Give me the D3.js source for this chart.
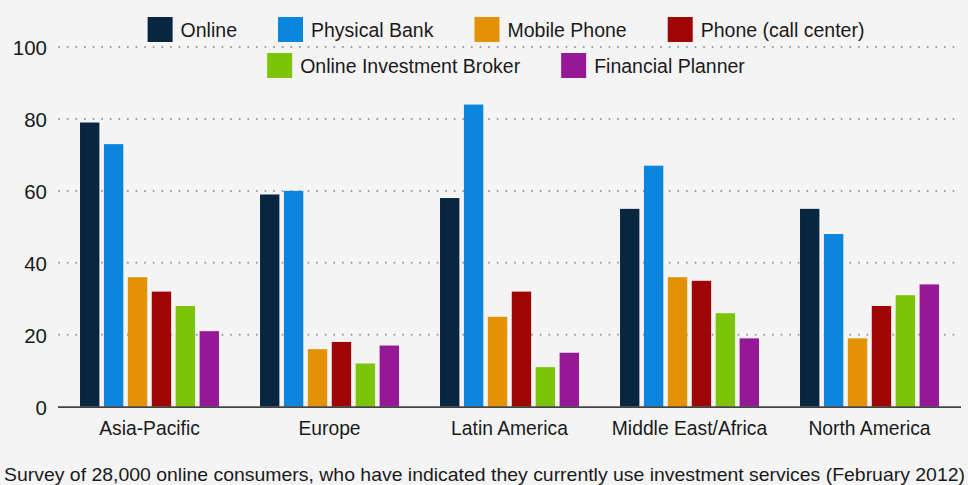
<!DOCTYPE html>
<html>
<head>
<meta charset="utf-8">
<script src="https://cdn.jsdelivr.net/npm/d3@7"></script>
<style>
  html, body { margin: 0; padding: 0; background: #f4f4f4; }
  svg { display: block; font-family: "Liberation Sans", Arial, Helvetica, sans-serif; }
</style>
</head>
<body>
<svg id="chart" width="968" height="485"></svg>
<script>
// Regions and channels used for investment services (% of respondents)
const regions = ["Asia-Pacific", "Europe", "Latin America", "Middle East/Africa", "North America"];
const channels = ["Online", "Physical Bank", "Mobile Phone", "Phone (call center)", "Online Investment Broker", "Financial Planner"];
const channelColors = ["#08263f", "#0a86de", "#e39105", "#a00505", "#7cc408", "#961896"];

const online        = [79, 59, 58, 55, 55];
const physicalBank  = [73, 60, 84, 67, 48];
const mobilePhone   = [36, 16, 25, 36, 19];
const callCenter    = [32, 18, 32, 35, 28];
const onlineBroker  = [28, 12, 11, 26, 31];
const finPlanner    = [21, 17, 15, 19, 34];
const seriesValues = [online, physicalBank, mobilePhone, callCenter, onlineBroker, finPlanner];

const yTicks = [0, 20, 40, 60, 80, 100];
const footnote = "Survey of 28,000 online consumers, who have indicated they currently use investment services (February 2012)";

const svg = d3.select("#chart");
const W = 968, H = 485;
svg.append("rect").attr("width", W).attr("height", H).attr("fill", "#f4f4f4");

const plotLeft = 58, plotRight = 961;
const y = d3.scaleLinear().domain([0, 100]).range([406.7, 47]);
const x0 = d3.scaleBand().domain(regions).range([59.5, 959.5]).paddingInner(0.228).paddingOuter(0.114);
const x1 = d3.scaleBand().domain(channels).range([0, x0.bandwidth()]).paddingInner(0.19).paddingOuter(0);
const color = d3.scaleOrdinal().domain(channels).range(channelColors);

// dotted gridlines
svg.append("g")
  .selectAll("line")
  .data(yTicks.filter(d => d > 0))
  .join("line")
  .attr("x1", plotLeft + 1).attr("x2", plotRight)
  .attr("y1", d => y(d)).attr("y2", d => y(d))
  .attr("stroke", "#999")
  .attr("stroke-width", 2)
  .attr("stroke-linecap", "round")
  .attr("stroke-dasharray", "0.1,8.5");

// y-axis tick labels
const yAxis = d3.axisLeft(y).tickValues(yTicks).tickSize(0).tickPadding(0);
const yg = svg.append("g").attr("transform", "translate(47,0)").call(yAxis);
yg.select(".domain").remove();
yg.selectAll("text")
  .attr("font-size", 20.5)
  .attr("fill", "#1a1a1a")
  .attr("font-family", "'Liberation Sans', Arial, sans-serif")
  .attr("dy", "0.36em");

// bars
const groups = svg.append("g")
  .selectAll("g")
  .data(regions)
  .join("g")
  .attr("transform", d => `translate(${x0(d)},0)`);

groups.selectAll("rect")
  .data((r, ri) => channels.map((c, ci) => ({ channel: c, value: seriesValues[ci][ri] })))
  .join("rect")
  .attr("x", d => x1(d.channel))
  .attr("width", x1.bandwidth())
  .attr("y", d => y(d.value))
  .attr("height", d => y(0) - y(d.value))
  .attr("fill", d => color(d.channel));

// baseline
svg.append("line")
  .attr("x1", plotLeft).attr("x2", plotRight)
  .attr("y1", y(0) + 0.5).attr("y2", y(0) + 0.5)
  .attr("stroke", "#444").attr("stroke-width", 1.8);

// category labels
const xAxis = d3.axisBottom(x0).tickSize(0).tickPadding(0);
const xg = svg.append("g").attr("transform", "translate(0,435)").call(xAxis);
xg.select(".domain").remove();
xg.selectAll("text")
  .attr("dy", 0)
  .attr("font-size", 19.3)
  .attr("fill", "#1a1a1a")
  .attr("font-family", "'Liberation Sans', Arial, sans-serif");

// legend, two centred rows
const legendRows = [channels.slice(0, 4), channels.slice(4)];
const rowY = [17, 53];
const legendCenter = 506;
legendRows.forEach((row, ri) => {
  const g = svg.append("g");
  let cx = 0;
  row.forEach((name, i) => {
    const item = g.append("g").attr("transform", `translate(${cx},${rowY[ri]})`);
    item.append("rect").attr("width", 25).attr("height", 25).attr("fill", color(name));
    const t = item.append("text")
      .attr("x", 33).attr("y", 19.8)
      .attr("font-size", 19.5)
      .attr("fill", "#1a1a1a")
      .text(name);
    cx += 33 + t.node().getComputedTextLength() + (i < row.length - 1 ? 41 : 0);
  });
  g.attr("transform", `translate(${legendCenter - cx / 2},0)`);
});

// footnote
svg.append("text")
  .attr("x", 4).attr("y", 481)
  .attr("font-size", 19)
  .attr("fill", "#1a1a1a")
  .attr("textLength", 961)
  .attr("lengthAdjust", "spacingAndGlyphs")
  .text(footnote);
</script>
</body>
</html>
